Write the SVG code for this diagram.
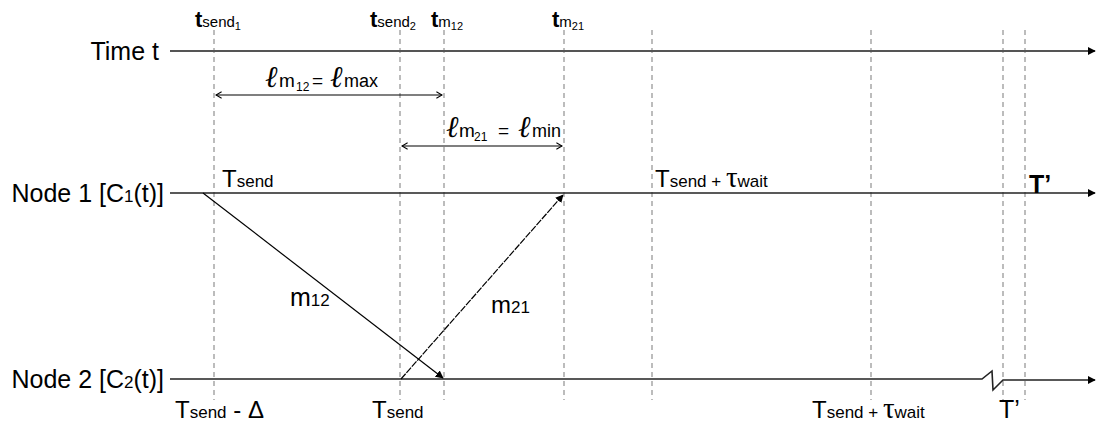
<svg xmlns="http://www.w3.org/2000/svg" width="1097" height="425" viewBox="0 0 1097 425">
<style>
text{font-family:"Liberation Sans",Arial,sans-serif;fill:#000}
.lbl{font-size:25px}
.c{font-size:17px}
.big{font-size:24px}
.sub{font-size:17px}
.ss{font-size:11px}
.tb{font-size:22px;font-weight:bold}
.ts{font-size:15px}
.ell{font-family:"DejaVu Serif","Liberation Serif",serif;font-style:italic;font-size:30px}
.tau{font-family:"Liberation Serif",serif;font-size:29px}
.grid{stroke:#999;stroke-width:1.3;stroke-dasharray:5,4}
.axis{stroke:#222;stroke-width:1.6;fill:none}
.msg{stroke:#000;stroke-width:1.2;fill:none}
.dim{stroke:#000;stroke-width:1.2;fill:none}
</style>
<defs>
<marker id="ah" viewBox="0 0 10 10" refX="9" refY="5" markerWidth="8" markerHeight="8" orient="auto" markerUnits="userSpaceOnUse">
<path d="M0,0 L10,5 L0,10 z" fill="#000"/>
</marker>
<marker id="axh" viewBox="0 0 10 10" refX="9" refY="5" markerWidth="8" markerHeight="9" orient="auto" markerUnits="userSpaceOnUse">
<path d="M0,0 L10,5 L0,10 z" fill="#000"/>
</marker>
<marker id="open" viewBox="0 0 10 10" refX="9" refY="5" markerWidth="8" markerHeight="8" orient="auto-start-reverse" markerUnits="userSpaceOnUse">
<path d="M2,1 L9,5 L2,9" fill="none" stroke="#000" stroke-width="1.3"/>
</marker>
</defs>

<g id="gridlines">
<line class="grid" x1="214" y1="30" x2="214" y2="400"/>
<line class="grid" x1="400" y1="30" x2="400" y2="400"/>
<line class="grid" x1="444" y1="30" x2="444" y2="400"/>
<line class="grid" x1="564" y1="30" x2="564" y2="400"/>
<line class="grid" x1="652" y1="30" x2="652" y2="400"/>
<line class="grid" x1="871" y1="30" x2="871" y2="400"/>
<line class="grid" x1="1003" y1="30" x2="1003" y2="400"/>
<line class="grid" x1="1025" y1="30" x2="1025" y2="400"/>
</g>

<g id="time-axis">
<line x1="170" y1="51" x2="1095" y2="51" stroke="#555" stroke-width="2" marker-end="url(#axh)"/>
<text class="lbl" x="159" y="60" text-anchor="end">Time t</text>
</g>

<g id="node1">
<line class="axis" x1="170" y1="193" x2="1095" y2="193" marker-end="url(#axh)"/>
<text class="lbl" x="164" y="202" text-anchor="end">Node 1 [C<tspan class="c">1</tspan>(t)]</text>
</g>

<g id="node2">
<path class="axis" d="M170,379 H982 L992,371 L993,390 L1003,380 H1095" marker-end="url(#axh)"/>
<text class="lbl" x="164" y="388" text-anchor="end">Node 2 [C<tspan class="c">2</tspan>(t)]</text>
</g>

<g id="time-labels">
<text x="195" y="27"><tspan class="tb">t</tspan><tspan class="ts">send</tspan><tspan class="ss" dy="3">1</tspan></text>
<text x="370" y="27"><tspan class="tb">t</tspan><tspan class="ts">send</tspan><tspan class="ss" dy="3">2</tspan></text>
<text x="431" y="27"><tspan class="tb">t</tspan><tspan class="ts">m</tspan><tspan class="ss" dy="3">12</tspan></text>
<text x="552" y="27"><tspan class="tb">t</tspan><tspan class="ts">m</tspan><tspan class="ss" dy="3">21</tspan></text>
</g>

<g id="node1-labels">
<text x="222" y="187"><tspan class="big">T</tspan><tspan class="sub">send</tspan></text>
<text x="655" y="187"><tspan class="big">T</tspan><tspan class="sub">send + </tspan><tspan class="tau">τ</tspan><tspan class="sub">wait</tspan></text>
<text x="1029" y="193" font-size="25" font-weight="bold">T’</text>
</g>

<g id="node2-labels">
<text x="175" y="418"><tspan class="big">T</tspan><tspan class="sub">send</tspan><tspan class="big"> - Δ</tspan></text>
<text x="372" y="418"><tspan class="big">T</tspan><tspan class="sub">send</tspan></text>
<text x="812" y="418"><tspan class="big">T</tspan><tspan class="sub">send + </tspan><tspan class="tau">τ</tspan><tspan class="sub">wait</tspan></text>
<text x="999" y="418" font-size="25">T’</text>
</g>

<g id="connectors">
<line class="dim" x1="216" y1="95" x2="442" y2="95" marker-start="url(#open)" marker-end="url(#open)"/>
<line class="dim" x1="402" y1="146" x2="562" y2="146" marker-start="url(#open)" marker-end="url(#open)"/>
<line class="msg" x1="203" y1="193" x2="443" y2="378" marker-end="url(#ah)"/>
<line class="msg" x1="401" y1="379" x2="563" y2="195" stroke-dasharray="7,1.2" stroke-width="1.4" marker-end="url(#ah)"/>
</g>

<g id="connector-labels">
<text y="87"><tspan class="ell" x="265">ℓ</tspan><tspan font-size="19" x="279">m</tspan><tspan font-size="12" x="296" dy="4">12</tspan><tspan font-size="19" x="312" dy="-4">=</tspan><tspan class="ell" x="330">ℓ</tspan><tspan font-size="18" x="344">max</tspan></text>
<text y="137"><tspan class="ell" x="446">ℓ</tspan><tspan font-size="19" x="459">m</tspan><tspan font-size="12" x="474" dy="4">21</tspan><tspan font-size="19" x="498" dy="-4">=</tspan><tspan class="ell" x="518">ℓ</tspan><tspan font-size="18" x="532">min</tspan></text>
<text x="290" y="306"><tspan font-size="25">m</tspan><tspan class="sub">12</tspan></text>
<text x="491" y="313"><tspan font-size="24">m</tspan><tspan class="sub">21</tspan></text>
</g>
</svg>
